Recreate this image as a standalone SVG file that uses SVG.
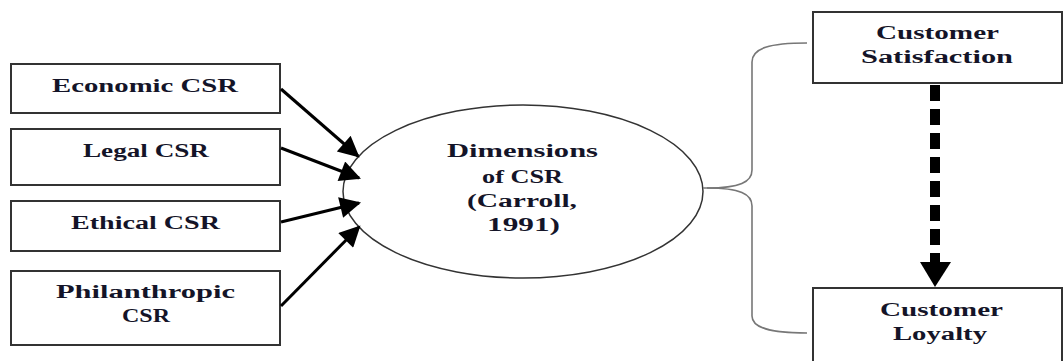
<svg xmlns="http://www.w3.org/2000/svg" width="1063" height="361" viewBox="0 0 1063 361">
<style>
.box{fill:#fff;stroke:#333;stroke-width:2}
.t{font-family:"Liberation Serif","Times New Roman",serif;font-weight:bold;font-size:18px;fill:#141428}
.arr{stroke:#000;stroke-width:3;fill:none}
.brace{stroke:#777;stroke-width:1.6;fill:none}
</style>
<defs>
<marker id="ah" viewBox="0 0 10 10" refX="9" refY="5" markerWidth="8" markerHeight="7" markerUnits="strokeWidth" orient="auto">
<path d="M0,0 L10,5 L0,10 Z" fill="#000"/>
</marker>
</defs>
<rect width="1063" height="361" fill="#fff"/>
<g id="economic">
<rect class="box" x="11" y="64" width="269" height="49"/>
<text class="t" x="52" y="92" textLength="186" lengthAdjust="spacingAndGlyphs">Economic CSR</text>
</g>
<g id="legal">
<rect class="box" x="11" y="129" width="269" height="56"/>
<text class="t" x="83" y="157" textLength="126" lengthAdjust="spacingAndGlyphs">Legal CSR</text>
</g>
<g id="ethical">
<rect class="box" x="11" y="201" width="269" height="50"/>
<text class="t" x="71" y="229" textLength="149" lengthAdjust="spacingAndGlyphs">Ethical CSR</text>
</g>
<g id="philanthropic">
<rect class="box" x="11" y="271" width="269" height="74"/>
<text class="t" x="56" y="298" textLength="179" lengthAdjust="spacingAndGlyphs">Philanthropic</text>
<text class="t" x="122" y="322" textLength="48" lengthAdjust="spacingAndGlyphs">CSR</text>
</g>
<g id="dimensions">
<ellipse cx="523" cy="191.5" rx="180" ry="86.5" fill="#fff" stroke="#333" stroke-width="1.5"/>
<text class="t" x="447" y="157" textLength="151" lengthAdjust="spacingAndGlyphs">Dimensions</text>
<text class="t" x="482" y="183" textLength="81" lengthAdjust="spacingAndGlyphs">of CSR</text>
<text class="t" x="467" y="207" textLength="110" lengthAdjust="spacingAndGlyphs">(Carroll,</text>
<text class="t" x="487" y="231" textLength="73" lengthAdjust="spacingAndGlyphs">1991)</text>
</g>
<g id="satisfaction">
<rect class="box" x="813" y="12" width="249" height="71"/>
<text class="t" x="876" y="39" textLength="123" lengthAdjust="spacingAndGlyphs">Customer</text>
<text class="t" x="861" y="63" textLength="152" lengthAdjust="spacingAndGlyphs">Satisfaction</text>
</g>
<g id="loyalty">
<rect class="box" x="813" y="288" width="249" height="80"/>
<text class="t" x="880" y="316" textLength="123" lengthAdjust="spacingAndGlyphs">Customer</text>
<text class="t" x="893" y="340" textLength="94" lengthAdjust="spacingAndGlyphs">Loyalty</text>
</g>
<g id="connectors">
<line class="arr" x1="281" y1="89" x2="358" y2="156" marker-end="url(#ah)"/>
<line class="arr" x1="281" y1="148" x2="359" y2="178" marker-end="url(#ah)"/>
<line class="arr" x1="281" y1="222" x2="359" y2="203" marker-end="url(#ah)"/>
<line class="arr" x1="281" y1="306" x2="359" y2="227" marker-end="url(#ah)"/>
<line x1="935" y1="85" x2="935" y2="262" stroke="#000" stroke-width="10" stroke-dasharray="16 8"/>
<polygon points="920,262 951,262 935,287" fill="#000"/>
<path class="brace" d="M703,188 L707,188 C740,188 752,182 752,170 L752,62 C752,48 770,43 807,43"/>
<path class="brace" d="M707,188 C740,188 752,194 752,206 L752,316 C752,328 770,333 807,333"/>
</g>
</svg>
